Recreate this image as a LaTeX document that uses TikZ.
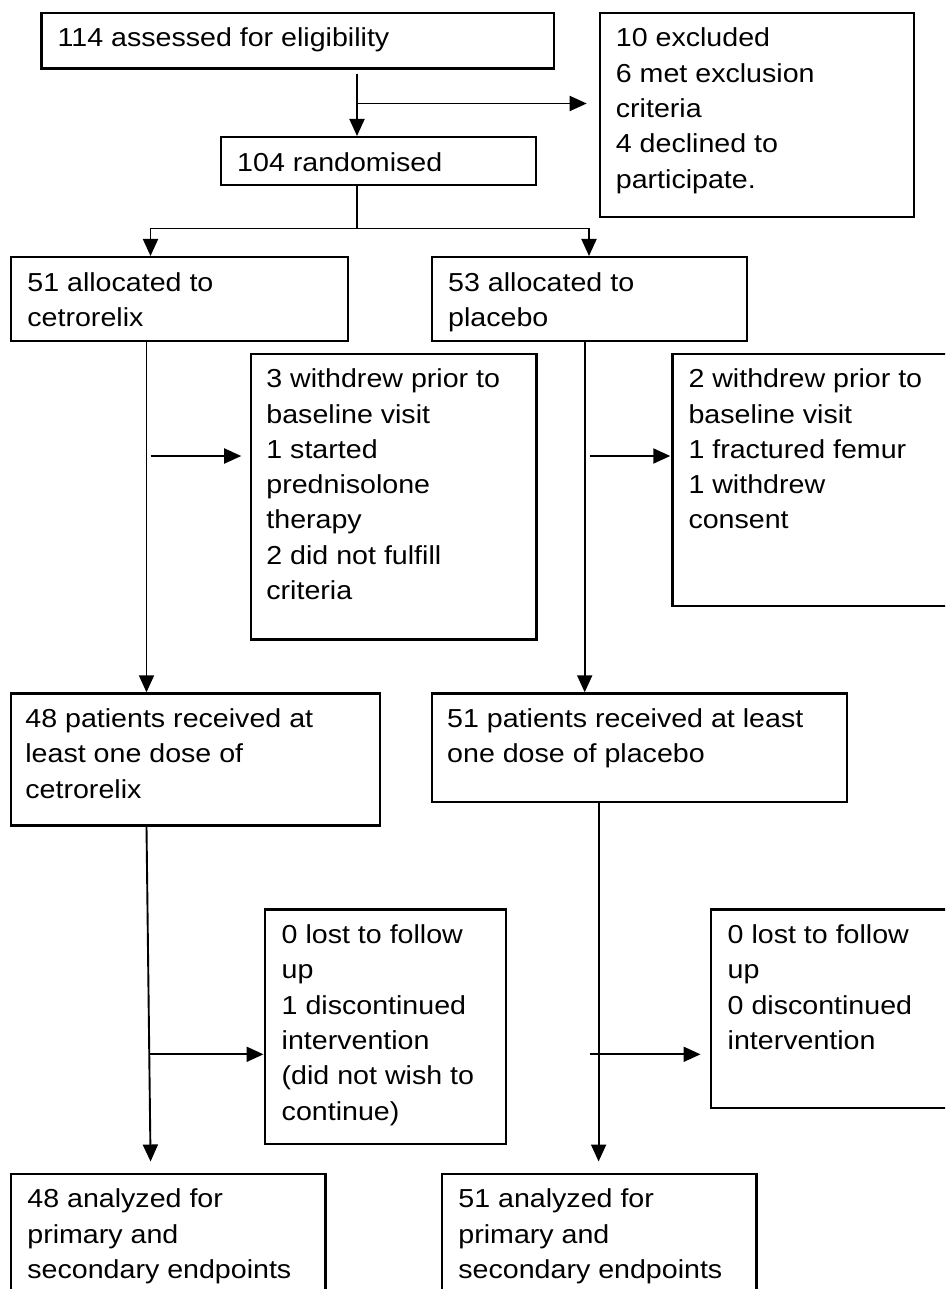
\documentclass[tikz,border=0pt]{standalone}
\usepackage{fontspec}
\setmainfont{Liberation Sans}[FakeStretch=1.1]
\usetikzlibrary{arrows.meta}
\begin{document}
\begin{tikzpicture}[x=1pt,y=-1pt,
  box/.style={draw=black, line width=2.2pt, inner sep=0pt, anchor=north west},
  txt/.style={font=\fontsize{26}{35.3}\selectfont, align=left, inner sep=0pt, anchor=north west},
  conn/.style={draw=black, line width=1.9pt},
  arr/.style={conn, -{Triangle[length=17pt,width=15pt]}}]
\useasboundingbox (0,0) rectangle (945,1289);
\clip (0,0) rectangle (945,1289);
\fill[white] (0,0) rectangle (945,1289);
% boxes
\node[box, minimum width=512.6pt, minimum height=55.8pt] (assess) at (40.4,11.7) {};
\node[box, minimum width=314.5pt, minimum height=204.3pt] (excl) at (598.7,11.7) {};
\node[box, minimum width=314.7pt, minimum height=48.3pt] (rand) at (220,136) {};
\node[box, minimum width=336.4pt, minimum height=84pt] (allocL) at (10.2,256) {};
\node[box, minimum width=314.6pt, minimum height=84pt] (allocR) at (431,256) {};
\node[box, minimum width=285.1pt, minimum height=285.8pt] (wdL) at (250.2,352.5) {};
\node[box, minimum width=300pt, minimum height=252.5pt] (wdR) at (671.3,352.5) {};
\node[box, minimum width=368.3pt, minimum height=132pt] (recvL) at (10.2,692.3) {};
\node[box, minimum width=414.7pt, minimum height=108.4pt] (recvR) at (431,692.3) {};
\node[box, minimum width=241.5pt, minimum height=234.4pt] (lostL) at (263.5,908.3) {};
\node[box, minimum width=260pt, minimum height=198.2pt] (lostR) at (709.5,908.3) {};
\node[box, minimum width=314.1pt, minimum height=140pt] (analL) at (10.2,1172.5) {};
\node[box, minimum width=314.1pt, minimum height=140pt] (analR) at (441.2,1172.5) {};
% texts
\node[txt] (assess-t) at ([xshift=17pt,yshift=-10.3pt]assess.north west) {\strut 114 assessed for eligibility};
\node[txt] (excl-t) at ([xshift=17pt,yshift=-10.3pt]excl.north west) {\strut 10 excluded\\6 met exclusion\\criteria\\4 declined to\\participate.};
\node[txt] (rand-t) at ([xshift=17pt,yshift=-10.3pt]rand.north west) {\strut 104 randomised};
\node[txt] (allocL-t) at ([xshift=17pt,yshift=-10.3pt]allocL.north west) {\strut 51 allocated to\\cetrorelix};
\node[txt] (allocR-t) at ([xshift=17pt,yshift=-10.3pt]allocR.north west) {\strut 53 allocated to\\placebo};
\node[txt] (wdL-t) at ([xshift=16pt,yshift=-10.3pt]wdL.north west) {\strut 3 withdrew prior to\\baseline visit\\1 started\\prednisolone\\therapy\\2 did not fulfill\\criteria};
\node[txt] (wdR-t) at ([xshift=17pt,yshift=-10.3pt]wdR.north west) {\strut 2 withdrew prior to\\baseline visit\\1 fractured femur\\1 withdrew\\consent};
\node[txt] (recvL-t) at ([xshift=15pt,yshift=-10.3pt]recvL.north west) {\strut 48 patients received at\\least one dose of\\cetrorelix};
\node[txt] (recvR-t) at ([xshift=16pt,yshift=-10.3pt]recvR.north west) {\strut 51 patients received at least\\one dose of placebo};
\node[txt] (lostL-t) at ([xshift=18pt,yshift=-10.3pt]lostL.north west) {\strut 0 lost to follow\\up\\1 discontinued\\intervention\\(did not wish to\\continue)};
\node[txt] (lostR-t) at ([xshift=18pt,yshift=-10.3pt]lostR.north west) {\strut 0 lost to follow\\up\\0 discontinued\\intervention};
\node[txt] (analL-t) at ([xshift=17pt,yshift=-10.3pt]analL.north west) {\strut 48 analyzed for\\primary and\\secondary endpoints};
\node[txt] (analR-t) at ([xshift=17pt,yshift=-10.3pt]analR.north west) {\strut 51 analyzed for\\primary and\\secondary endpoints};
% connectors
\coordinate (j1) at (357,103.5);
\draw[arr, shorten <=4pt] (assess.south -| j1) -- (rand.north -| j1);
\draw[arr, shorten >=12pt] (j1) -- (excl.west |- j1);
\coordinate (j2) at (357,228.5);
\coordinate (jL) at (150.5,228.5);
\coordinate (jR) at (589,228.5);
\draw[conn] (rand.south -| j2) -- (j2);
\draw[conn] (jL) -- (jR);
\draw[arr] (jL) -- (allocL.north -| jL);
\draw[arr] (jR) -- (allocR.north -| jR);
\coordinate (vL) at (146.5,0);
\coordinate (vR) at (584.7,0);
\draw[arr] (allocL.south -| vL) -- (recvL.north -| vL);
\draw[arr] (allocR.south -| vR) -- (recvR.north -| vR);
\coordinate (bL) at (150.7,456);
\coordinate (bR) at (589.5,456);
\draw[arr, shorten >=9pt] (bL) -- (wdL.west |- bL);
\draw[arr, shorten >=1pt] (bR) -- (wdR.west |- bR);
\coordinate (wL1) at (146.5,0);
\coordinate (wL2) at (150.7,0);
\coordinate (vR2) at (598.6,0);
\draw[arr, shorten >=11pt] (recvL.south -| wL1) -- (analL.north -| wL2);
\draw[arr, shorten >=11pt] (recvR.south -| vR2) -- (analR.north -| vR2);
\coordinate (cL) at (149.5,1054.3);
\coordinate (cR) at (589.5,1054.3);
\draw[arr] (cL) -- (lostL.west |- cL);
\draw[arr, shorten >=9pt] (cR) -- (lostR.west |- cR);
\end{tikzpicture}
\end{document}
